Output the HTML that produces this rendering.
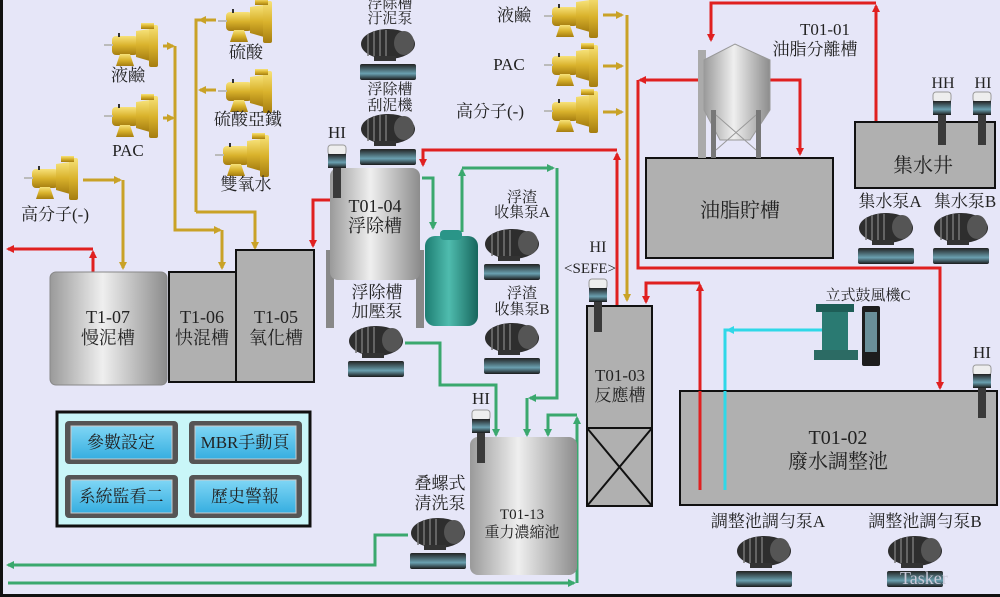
<!DOCTYPE html>
<html><head><meta charset="utf-8"><style>
html,body{margin:0;padding:0;background:#e6e6f8;}
svg{display:block;}
text{font-family:"Liberation Serif","Noto Serif CJK TC","Noto Serif CJK SC",serif;fill:#222;}
</style></head><body>
<svg width="1000" height="597" viewBox="0 0 1000 597" xmlns="http://www.w3.org/2000/svg">
<defs>
<linearGradient id="cyl" x1="0" x2="1"><stop offset="0" stop-color="#9a9a9a"/><stop offset="0.45" stop-color="#efefef"/><stop offset="1" stop-color="#8c8c8c"/></linearGradient>
<linearGradient id="teal" x1="0" x2="1"><stop offset="0" stop-color="#1d7d72"/><stop offset="0.45" stop-color="#4fbcae"/><stop offset="1" stop-color="#17665d"/></linearGradient>
<linearGradient id="gold" x1="0" y1="0" x2="0" y2="1"><stop offset="0" stop-color="#f7e27a"/><stop offset="0.5" stop-color="#d9b22c"/><stop offset="1" stop-color="#a57d10"/></linearGradient>
<linearGradient id="base" x1="0" y1="0" x2="0" y2="1"><stop offset="0" stop-color="#222"/><stop offset="0.6" stop-color="#6aa0b0"/><stop offset="1" stop-color="#1a1a1a"/></linearGradient>
<linearGradient id="btn" x1="0" y1="0" x2="0" y2="1"><stop offset="0" stop-color="#7fd6f5"/><stop offset="1" stop-color="#36aee0"/></linearGradient>
<marker id="ar" markerWidth="8" markerHeight="8" refX="6" refY="4" orient="auto" markerUnits="userSpaceOnUse"><path d="M0,0 L8,4 L0,8 z" fill="context-stroke"/></marker>
<g id="pump">
<rect x="8" y="10" width="26" height="19" rx="4" fill="url(#gold)"/>
<rect x="0" y="18" width="9" height="2" fill="#bbb"/>
<path d="M32,5 L46,3 L46,35 L32,31 z" fill="url(#gold)"/>
<rect x="45" y="-1" width="9" height="42" rx="2" fill="url(#gold)"/>
<rect x="37" y="-3" width="13" height="6" fill="url(#gold)"/>
<path d="M16,28 L26,28 L30,40 L12,40 z" fill="url(#gold)"/>
<rect x="14" y="7" width="2" height="4" fill="#333"/>
</g>
<g id="blower">
<ellipse cx="28" cy="16" rx="27" ry="15" fill="#2e2e2e"/>
<path d="M8,6 v22 M14,3 v26 M20,2 v28 M26,2 v28" stroke="#777" stroke-width="1.5"/>
<ellipse cx="44" cy="15" rx="10" ry="12" fill="#555"/>
<rect x="14" y="28" width="22" height="5" fill="#333"/>
<rect x="0" y="36" width="56" height="16" rx="2" fill="url(#base)"/>
</g>
<g id="sensor">
<rect x="0" y="0" width="18" height="10" rx="3" fill="#eee" stroke="#999"/>
<rect x="0" y="9" width="18" height="14" fill="url(#base)"/>
<rect x="5" y="23" width="8" height="30" fill="#3a3a3a"/>
</g>
</defs>

<rect x="0" y="0" width="3" height="597" fill="#111"/>
<rect x="0" y="594" width="1000" height="3" fill="#111"/>

<g stroke="#c9a227" stroke-width="3" fill="none" marker-end="url(#ar)">
<path d="M163,46 H173"/><path d="M163,118 H173"/>
<path d="M175,46 V230 H220"/><path d="M222,230 V268"/>
<path d="M83,180 H120"/><path d="M123,180 V268"/>
<path d="M196,212 V20 H210" marker-end="none"/><path d="M216,20 H200"/><path d="M216,90 H200"/>
<path d="M196,212 H255 V248"/>
<path d="M603,15 H622"/><path d="M603,66 H622"/><path d="M603,112 H622"/>
<path d="M627,15 V300"/>
</g>

<g stroke="#e02020" stroke-width="3" fill="none" marker-end="url(#ar)">
<path d="M93,272 V252"/><path d="M93,249 H8"/>
<path d="M330,200 H313 V246"/>
<path d="M617,305 V154"/><path d="M617,150 H423 V165"/>
<path d="M876,155 V6"/><path d="M876,3 H711 V40"/>
<path d="M770,80 H800 V154"/>
<path d="M700,80 H640"/><path d="M638,80 V268 H940 V388"/>
<path d="M700,490 V285"/><path d="M700,283 H646 V302"/>
</g>
<path d="M828,330 H725 V490" stroke="#2fd8e8" stroke-width="3" fill="none"/>
<path d="M740,330 H728" stroke="#2fd8e8" stroke-width="3" marker-end="url(#ar)"/>

<g stroke="#3aa86e" stroke-width="3" fill="none" marker-end="url(#ar)">
<path d="M422,178 H433 V228"/>
<path d="M462,232 V170"/><path d="M462,168 H553"/>
<path d="M557,168 V398 H530"/><path d="M527,398 V435"/>
<path d="M405,343 H440 V385 H496 V435" />
<path d="M8,583 H574"/><path d="M577,583 V418"/><path d="M577,415 H548 V435"/>
<path d="M408,535 H375 V565 H8"/>
</g>

<use href="#pump" x="104" y="26"/>
<use href="#pump" x="104" y="97"/>
<use href="#pump" x="24" y="159"/>
<use href="#pump" x="218" y="2"/>
<use href="#pump" x="218" y="72"/>
<use href="#pump" x="215" y="136"/>
<use href="#pump" x="544" y="-3"/>
<use href="#pump" x="544" y="46"/>
<use href="#pump" x="544" y="92"/>
<g font-size="17" text-anchor="middle">
<text x="128" y="81">液鹼</text><text x="128" y="156">PAC</text><text x="55" y="220">高分子(-)</text>
<text x="246" y="58">硫酸</text><text x="248" y="125">硫酸亞鐵</text><text x="246" y="190">雙氧水</text>
<text x="514" y="21">液鹼</text><text x="509" y="70">PAC</text><text x="490" y="117">高分子(-)</text>
</g>

<rect x="50" y="272" width="117" height="113" rx="6" fill="url(#cyl)" stroke="#888"/>
<rect x="169" y="272" width="67" height="110" fill="#b0b0b0" stroke="#111" stroke-width="2"/>
<rect x="236" y="250" width="78" height="132" fill="#b0b0b0" stroke="#111" stroke-width="2"/>
<g font-size="18" text-anchor="middle">
<text x="108" y="323">T1-07</text><text x="108" y="344">慢泥槽</text>
<text x="202" y="323">T1-06</text><text x="202" y="344">快混槽</text>
<text x="276" y="323">T1-05</text><text x="276" y="344">氧化槽</text>
</g>

<rect x="326" y="250" width="8" height="78" fill="#888"/><rect x="416" y="250" width="8" height="78" fill="#888"/>
<rect x="330" y="168" width="90" height="112" rx="8" fill="url(#cyl)"/>
<text x="375" y="212" font-size="18" text-anchor="middle">T01-04</text>
<text x="375" y="232" font-size="18" text-anchor="middle">浮除槽</text>
<rect x="425" y="236" width="53" height="90" rx="10" fill="url(#teal)"/>
<rect x="440" y="230" width="22" height="10" rx="4" fill="#2a9588"/>
<use href="#sensor" x="328" y="145"/><text x="337" y="138" font-size="17" text-anchor="middle">HI</text>

<use href="#blower" x="360" y="28"/><use href="#blower" x="360" y="113"/>
<use href="#blower" x="484" y="228"/><use href="#blower" x="484" y="322"/>
<use href="#blower" x="348" y="325"/><use href="#blower" x="410" y="517"/>
<use href="#blower" x="858" y="212"/><use href="#blower" x="933" y="212"/>
<use href="#blower" x="736" y="535"/><use href="#blower" x="887" y="535"/>
<g font-size="15" text-anchor="middle">
<text x="390" y="8">浮除槽</text><text x="390" y="23">汙泥泵</text>
<text x="390" y="94">浮除槽</text><text x="390" y="110">刮泥機</text>
<text x="522" y="202">浮渣</text><text x="522" y="217">收集泵A</text>
<text x="522" y="298">浮渣</text><text x="522" y="314">收集泵B</text>
<text x="377" y="298" font-size="17">浮除槽</text><text x="377" y="317" font-size="17">加壓泵</text>
<text x="440" y="489" font-size="17">叠螺式</text><text x="440" y="509" font-size="17">清洗泵</text>
<text x="890" y="207" font-size="17">集水泵A</text><text x="965" y="207" font-size="17">集水泵B</text>
<text x="768" y="527" font-size="17">調整池調勻泵A</text><text x="925" y="527" font-size="17">調整池調勻泵B</text>
<text x="868" y="300">立式鼓風機C</text>
</g>

<rect x="470" y="437" width="107" height="138" rx="8" fill="url(#cyl)"/>
<text x="522" y="519" font-size="15" text-anchor="middle">T01-13</text>
<text x="522" y="537" font-size="15" text-anchor="middle">重力濃縮池</text>
<use href="#sensor" x="472" y="410"/><text x="481" y="404" font-size="17" text-anchor="middle">HI</text>

<rect x="57" y="412" width="253" height="114" fill="#c9f6f8" stroke="#111" stroke-width="3"/>
<g font-size="17" text-anchor="middle">
<rect x="65" y="421" width="113" height="43" rx="4" fill="#555"/><rect x="71" y="426" width="101" height="33" fill="url(#btn)" stroke="#ccc"/><text x="121" y="448">參數設定</text>
<rect x="189" y="421" width="113" height="43" rx="4" fill="#555"/><rect x="195" y="426" width="101" height="33" fill="url(#btn)" stroke="#ccc"/><text x="245" y="448">MBR手動頁</text>
<rect x="65" y="475" width="113" height="43" rx="4" fill="#555"/><rect x="71" y="480" width="101" height="33" fill="url(#btn)" stroke="#ccc"/><text x="121" y="502">系統監看二</text>
<rect x="189" y="475" width="113" height="43" rx="4" fill="#555"/><rect x="195" y="480" width="101" height="33" fill="url(#btn)" stroke="#ccc"/><text x="245" y="502">歷史警報</text>
</g>

<rect x="646" y="158" width="187" height="100" fill="#b0b0b0" stroke="#111" stroke-width="2"/>
<text x="740" y="217" font-size="20" text-anchor="middle">油脂貯槽</text>
<rect x="698" y="50" width="8" height="108" fill="#aaa"/>
<path d="M704,60 L735,44 L770,60 V110 L750,140 H720 L704,110 z" fill="url(#cyl)" stroke="#999"/>
<rect x="711" y="110" width="5" height="48" fill="#777"/><rect x="756" y="110" width="5" height="48" fill="#777"/>
<path d="M716,115 L756,150 M756,115 L716,150" stroke="#999"/>
<text x="825" y="35" font-size="17" text-anchor="middle">T01-01</text>
<text x="815" y="55" font-size="17" text-anchor="middle">油脂分離槽</text>

<rect x="855" y="122" width="140" height="66" fill="#b0b0b0" stroke="#111" stroke-width="2"/>
<text x="923" y="172" font-size="20" text-anchor="middle">集水井</text>
<use href="#sensor" x="933" y="92"/><use href="#sensor" x="973" y="92"/>
<text x="943" y="88" font-size="16" text-anchor="middle">HH</text><text x="983" y="88" font-size="16" text-anchor="middle">HI</text>

<rect x="587" y="306" width="65" height="200" fill="#b0b0b0" stroke="#111" stroke-width="2"/>
<path d="M587,428 H652 M587,428 L652,506 M652,428 L587,506" stroke="#111" stroke-width="2"/>
<text x="620" y="381" font-size="17" text-anchor="middle">T01-03</text>
<text x="620" y="401" font-size="17" text-anchor="middle">反應槽</text>
<use href="#sensor" x="589" y="279"/>
<text x="598" y="252" font-size="16" text-anchor="middle">HI</text>
<text x="590" y="273" font-size="15" text-anchor="middle">&lt;SEFE&gt;</text>

<rect x="680" y="391" width="317" height="114" fill="#b0b0b0" stroke="#111" stroke-width="2"/>
<path d="M700,490 V391" stroke="#e02020" stroke-width="3"/>
<path d="M725,490 V391" stroke="#2fd8e8" stroke-width="3"/>
<text x="838" y="444" font-size="20" text-anchor="middle">T01-02</text>
<text x="838" y="468" font-size="20" text-anchor="middle">廢水調整池</text>
<use href="#sensor" x="973" y="365"/><text x="982" y="358" font-size="17" text-anchor="middle">HI</text>

<rect x="822" y="310" width="26" height="40" fill="#2a7a72"/>
<rect x="816" y="304" width="38" height="8" fill="#1e5e57"/>
<path d="M814,350 H858 V360 H814 z" fill="#2c6b64"/>
<rect x="862" y="306" width="18" height="60" rx="2" fill="#1d1d1d"/>
<rect x="865" y="312" width="12" height="40" fill="#6a8f99"/>
<text x="900" y="584" font-size="18" style="fill:#c8c8d8" font-family="Liberation Sans">Tasker</text>
</svg>
</body></html>
